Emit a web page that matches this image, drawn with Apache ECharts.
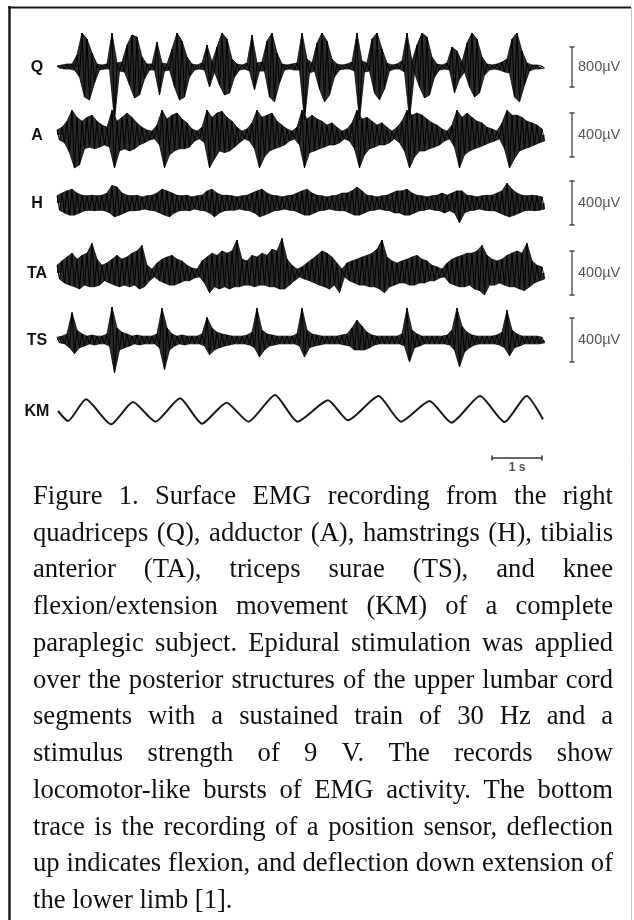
<!DOCTYPE html>
<html>
<head>
<meta charset="utf-8">
<script src="https://cdn.jsdelivr.net/npm/echarts@6/dist/echarts.min.js"></script>
<style>
  html, body { margin: 0; padding: 0; background: #fff; }
  #main { width: 634px; height: 920px; }
</style>
</head>
<body>
<div id="main"></div>
<script>
// EMG envelopes, one sample every 0.1 s
// high = positive peak at t, low = negative trough at t + 0.05 s (µV)
const step = 0.1

const qHigh = [20,40,60,60,240,680,560,280,60,40,
  60,680,80,100,440,640,600,200,60,60,
  500,80,60,360,680,520,200,60,40,80,
  440,100,400,680,560,160,60,40,80,640,
  80,100,520,680,280,60,40,60,80,680,
  160,80,480,680,520,160,60,40,60,100,
  680,120,80,560,680,360,80,40,60,120,
  680,120,440,680,600,200,60,40,80,400,
  320,100,480,680,560,200,60,40,60,100,
  160,560,680,320,80,40,40,20]
const qLow = [-20,-40,-40,-60,-200,-600,-660,-320,-60,-40,
  -40,-1060,-80,-100,-360,-620,-560,-240,-60,-60,
  -560,-80,-60,-400,-660,-600,-200,-60,-40,-60,
  -400,-100,-360,-560,-520,-200,-60,-40,-80,-460,
  -80,-80,-600,-700,-320,-60,-40,-60,-60,-1060,
  -120,-80,-440,-700,-560,-200,-60,-40,-40,-80,
  -1060,-100,-80,-520,-660,-440,-80,-40,-40,-100,
  -1060,-120,-400,-620,-560,-200,-60,-40,-60,-520,
  -240,-100,-400,-600,-520,-160,-60,-40,-60,-100,
  -120,-600,-700,-360,-80,-40,-40,-20]

const aHigh = [45,70,125,225,160,125,160,180,125,90,
  70,225,125,160,200,160,110,70,45,35,
  90,225,145,180,200,145,110,55,35,70,
  225,160,200,215,160,125,70,35,55,110,
  225,160,180,200,125,90,55,35,70,225,
  145,180,145,125,90,110,70,35,55,110,
  225,145,160,125,90,110,70,35,70,125,
  225,180,200,180,145,110,90,55,35,90,
  225,160,200,160,125,110,70,55,35,110,
  225,180,180,160,125,110,90,55]
const aLow = [-45,-70,-160,-300,-270,-125,-110,-125,-110,-90,
  -110,-300,-145,-125,-145,-125,-90,-70,-45,-35,
  -90,-300,-180,-145,-125,-125,-110,-55,-35,-70,
  -300,-215,-145,-160,-145,-110,-70,-35,-55,-125,
  -300,-200,-145,-125,-110,-90,-55,-35,-90,-300,
  -160,-145,-125,-110,-90,-90,-70,-35,-55,-125,
  -300,-180,-125,-110,-90,-90,-70,-35,-70,-145,
  -300,-200,-145,-145,-125,-110,-90,-55,-35,-110,
  -300,-180,-145,-125,-110,-90,-70,-55,-35,-125,
  -300,-215,-145,-125,-110,-90,-70,-55]

const hHigh = [65,90,110,125,90,70,65,70,65,70,
  90,160,145,90,70,65,70,55,65,70,
  90,125,110,90,70,65,70,55,65,70,
  110,125,90,70,70,65,55,65,70,90,
  110,125,90,70,65,55,65,70,90,110,
  125,90,70,65,55,65,70,90,90,110,
  145,110,70,65,55,65,70,90,110,110,
  125,90,70,65,55,65,70,90,70,90,
  110,110,70,65,55,65,70,70,90,110,
  180,125,90,70,65,70,65,55]
const hLow = [-65,-90,-110,-110,-90,-70,-65,-70,-65,-70,
  -90,-125,-110,-90,-70,-70,-65,-55,-65,-70,
  -90,-110,-125,-90,-70,-65,-70,-55,-65,-70,
  -90,-125,-90,-70,-65,-65,-55,-65,-70,-90,
  -125,-110,-90,-70,-65,-55,-65,-70,-90,-110,
  -110,-90,-70,-65,-55,-65,-70,-70,-90,-110,
  -110,-90,-70,-65,-55,-65,-70,-90,-90,-110,
  -110,-90,-70,-65,-55,-65,-70,-90,-70,-90,
  -180,-90,-70,-65,-55,-65,-70,-70,-90,-110,
  -125,-110,-90,-70,-65,-70,-65,-55]

const taHigh = [70,110,145,180,125,160,180,270,125,70,
  90,125,160,125,145,180,200,250,70,35,
  90,125,145,160,125,110,70,45,35,110,
  145,180,160,200,180,200,300,125,110,160,
  145,180,160,215,200,315,125,70,35,55,
  90,125,160,200,180,145,90,35,90,110,
  125,145,160,180,215,300,145,110,90,110,
  125,145,160,125,110,70,55,35,90,125,
  145,160,180,180,200,250,160,125,110,125,
  160,180,200,180,270,110,70,55]
const taLow = [-55,-90,-110,-125,-145,-110,-125,-125,-110,-70,
  -90,-110,-125,-110,-125,-110,-145,-125,-70,-35,
  -70,-90,-110,-110,-90,-70,-70,-45,-35,-90,
  -180,-125,-145,-125,-145,-125,-125,-110,-110,-125,
  -110,-110,-125,-125,-145,-145,-110,-70,-35,-55,
  -70,-90,-110,-125,-145,-110,-180,-35,-70,-90,
  -110,-110,-125,-125,-145,-180,-125,-110,-90,-90,
  -110,-110,-90,-90,-70,-70,-45,-35,-90,-110,
  -125,-125,-110,-145,-160,-200,-110,-110,-90,-110,
  -125,-125,-145,-160,-125,-90,-70,-55]

const tsHigh = [25,35,55,250,90,55,35,45,35,35,
  55,300,110,70,55,35,45,35,35,35,
  55,290,110,55,35,45,35,35,35,55,
  205,110,70,55,45,35,35,35,45,70,
  290,90,55,45,35,35,35,35,55,290,
  90,55,45,35,35,35,35,45,55,110,
  180,125,70,45,35,35,35,35,35,55,
  290,90,55,35,35,35,35,35,45,90,
  290,125,70,45,35,35,35,35,45,70,
  270,90,55,35,35,35,35,25]
const tsLow = [-25,-35,-70,-125,-70,-55,-35,-45,-35,-35,
  -55,-300,-90,-70,-55,-35,-45,-35,-35,-35,
  -70,-270,-90,-55,-35,-45,-35,-35,-35,-55,
  -135,-90,-70,-55,-45,-35,-35,-35,-45,-70,
  -155,-90,-55,-45,-35,-35,-35,-35,-55,-155,
  -70,-55,-45,-35,-35,-35,-35,-45,-55,-90,
  -90,-90,-70,-45,-35,-35,-35,-35,-35,-55,
  -200,-70,-55,-35,-35,-35,-35,-35,-45,-90,
  -245,-110,-70,-45,-35,-35,-35,-35,-45,-70,
  -145,-70,-55,-35,-35,-35,-35,-25]

// knee movement: turning points of the position trace (s, arbitrary units)
const kmTime = [0.02,0.22,0.58,1.08,1.52,1.97,2.46,2.90,3.39,3.83,4.36,4.81,5.42,5.82,6.43,6.88,7.45,7.89,8.46,8.95,9.39,9.72]
const kmPos = [0,-30,35,-40,27,-32,38,-38,25,-32,48,-32,32,-28,45,-32,30,-35,45,-33,45,-25]

const names = ['Q', 'A', 'H', 'TA', 'TS']
const scaleBars = [800, 400, 400, 400, 400]
const timeBar = [8.7, 9.7]

const highs = [qHigh, aHigh, hHigh, taHigh, tsHigh]
const lows = [qLow, aLow, hLow, taLow, tsLow]

// layout
const baselines = [67, 135, 203, 273, 340]
const uvPerPx = [20, 9.1, 9.1, 9.1, 9.1]
const kmBase = 411
const tMax = 577 / 50   // 50 px per second
const barT = 10.3

const highPts = h => h.map((v, i) => [+(i * step).toFixed(2), v])
const lowPts = l => l.map((v, i) => [+(i * step + step / 2).toFixed(2), v])
function trace(high, low) {
  const d = []
  high.forEach((v, i) => {
    d.push([+(i * step).toFixed(2), v])
    d.push([+(i * step + step / 2).toFixed(2), low[i]])
  })
  return d
}

const chart = echarts.init(document.getElementById('main'), null, { renderer: 'canvas' })

const ink = '#0d0d0d'
const grid = [], xAxis = [], yAxis = [], series = []
names.forEach((n, k) => {
  grid.push({ left: 57, width: 577, top: baselines[k] - 34, height: 68 })
  xAxis.push({ type: 'value', gridIndex: k, min: 0, max: tMax, show: false })
  yAxis.push({ type: 'value', gridIndex: k, min: -34 * uvPerPx[k], max: 34 * uvPerPx[k], show: false })
  // upper and lower envelopes filled to the baseline
  ;[highPts(highs[k]), lowPts(lows[k])].forEach(d => {
    series.push({
      type: 'line', xAxisIndex: k, yAxisIndex: k, data: d,
      showSymbol: false, clip: false, silent: true,
      lineStyle: { color: ink, width: 0.8 },
      areaStyle: { color: ink, opacity: 0.88, origin: 0 }
    })
  })
  // raw zig-zag on top
  series.push({
    type: 'line', xAxisIndex: k, yAxisIndex: k, data: trace(highs[k], lows[k]),
    showSymbol: false, clip: false, silent: true,
    lineStyle: { color: '#000', width: 1 }
  })
  series.push({
    type: 'line', xAxisIndex: k, yAxisIndex: k,
    data: [[barT, -scaleBars[k] / 2], [barT, scaleBars[k] / 2]],
    symbol: 'rect', symbolSize: [5, 1.5], clip: false, silent: true,
    lineStyle: { color: '#444', width: 1.3 }, itemStyle: { color: '#444' }
  })
  series.push({
    type: 'scatter', xAxisIndex: k, yAxisIndex: k, data: [[barT, 0]],
    symbolSize: 0, clip: false, silent: true,
    label: {
      show: true, position: 'right', distance: 6, formatter: scaleBars[k] + 'µV',
      color: '#2a2a2a', fontSize: 14.5, fontFamily: 'Liberation Sans, Arial, sans-serif'
    }
  })
})

// knee movement grid
const km = names.length
grid.push({ left: 57, width: 577, top: kmBase - 20, height: 40 })
xAxis.push({ type: 'value', gridIndex: km, min: 0, max: tMax, show: false })
yAxis.push({ type: 'value', gridIndex: km, min: -60, max: 60, show: false })
series.push({
  type: 'line', xAxisIndex: km, yAxisIndex: km,
  data: kmTime.map((t, i) => [t, kmPos[i]]),
  showSymbol: false, smooth: 0.2, clip: false, silent: true,
  lineStyle: { color: '#1a1a1a', width: 2 }
})
const tbY = (kmBase - 458) * 3
series.push({
  type: 'line', xAxisIndex: km, yAxisIndex: km,
  data: [[timeBar[0], tbY], [timeBar[1], tbY]],
  symbol: 'rect', symbolSize: [1.5, 5], clip: false, silent: true,
  lineStyle: { color: '#333', width: 1.5 }, itemStyle: { color: '#333' }
})
series.push({
  type: 'scatter', xAxisIndex: km, yAxisIndex: km,
  data: [[(timeBar[0] + timeBar[1]) / 2, tbY]],
  symbolSize: 0, clip: false, silent: true,
  label: {
    show: true, position: 'bottom', distance: 4, formatter: '1 s',
    color: '#222', fontSize: 12, fontWeight: 'bold', fontFamily: 'Liberation Sans, Arial, sans-serif'
  }
})

// channel labels
const labelFont = 'bold 16px "Liberation Sans", Arial, sans-serif'
const graphic = []
names.concat(['KM']).forEach((n, k) => {
  graphic.push({
    type: 'text', x: 37, y: (k < names.length ? baselines[k] : kmBase) + 1,
    style: { text: n, font: labelFont, fill: '#111', textAlign: 'center', textVerticalAlign: 'middle' }
  })
})

// frame
graphic.push({ type: 'line', shape: { x1: 9.5, y1: 6, x2: 9.5, y2: 920 }, style: { stroke: '#1a1a1a', lineWidth: 2.5 } })
graphic.push({ type: 'line', shape: { x1: 8, y1: 7.5, x2: 631, y2: 7.5 }, style: { stroke: '#1a1a1a', lineWidth: 2 } })
graphic.push({ type: 'line', shape: { x1: 631.5, y1: 7, x2: 631.5, y2: 920 }, style: { stroke: '#c8c8c8', lineWidth: 1 } })

// caption, justified line by line
const caption = [
  'Figure 1. Surface EMG recording from the right',
  'quadriceps (Q), adductor (A), hamstrings (H), tibialis',
  'anterior (TA), triceps surae (TS), and knee',
  'flexion/extension movement (KM) of a complete',
  'paraplegic subject. Epidural stimulation was applied',
  'over the posterior structures of the upper lumbar cord',
  'segments with a sustained train of 30 Hz and a',
  'stimulus strength of 9 V. The records show',
  'locomotor-like bursts of EMG activity. The bottom',
  'trace is the recording of a position sensor, deflection',
  'up indicates flexion, and deflection down extension of',
  'the lower limb [1].'
]
const capLeft = 33, capRight = 613, capTop = 497, capStep = 36.75
const ctx = document.createElement('canvas').getContext('2d')
ctx.font = '24px "Liberation Serif"'
const maxW = Math.max(...caption.map(l => ctx.measureText(l).width))
const fs = 24 * (capRight - capLeft - 2) / maxW
const capFont = fs.toFixed(2) + 'px "Liberation Serif", "Times New Roman", serif'
ctx.font = capFont
caption.forEach((line, li) => {
  const words = line.split(' ')
  const widths = words.map(w => ctx.measureText(w).width)
  const total = widths.reduce((a, b) => a + b, 0)
  const last = li === caption.length - 1
  const gap = last ? ctx.measureText(' ').width : (capRight - capLeft - total) / (words.length - 1)
  let x = capLeft
  words.forEach((w, wi) => {
    graphic.push({
      type: 'text', x: x, y: capTop + li * capStep,
      style: { text: w, font: capFont, fill: '#111', textAlign: 'left', textVerticalAlign: 'middle' }
    })
    x += widths[wi] + gap
  })
})

chart.setOption({
  backgroundColor: '#fff',
  animation: false,
  grid: grid,
  xAxis: xAxis,
  yAxis: yAxis,
  series: series,
  graphic: graphic
})
</script>
</body>
</html>
